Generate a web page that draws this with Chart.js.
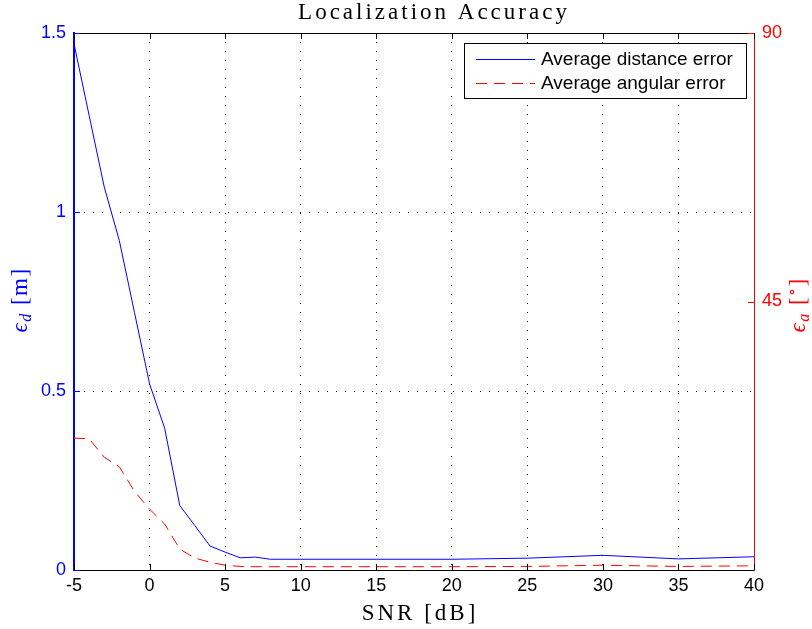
<!DOCTYPE html>
<html>
<head>
<meta charset="utf-8">
<script src="https://cdn.jsdelivr.net/npm/chart.js@4.4.1/dist/chart.umd.min.js"></script>
<style>
  html, body { margin: 0; padding: 0; background: #fff; }
  #wrap { width: 812px; height: 629px; position: relative; }
</style>
</head>
<body>
<div id="wrap"><canvas id="chart"></canvas></div>
<script>
// SNR points (dB) and the two error curves
const snrDb = [-5, -4, -3, -2, -1, 0, 1, 2, 3, 4, 5, 6, 7, 8, 10, 15, 20, 25, 30, 35, 40];
const avgDistanceError = [1.47, 1.27, 1.07, 0.92, 0.72, 0.52, 0.396, 0.18, 0.124, 0.067, 0.05, 0.034, 0.036, 0.03, 0.03, 0.03, 0.03, 0.033, 0.041, 0.031, 0.037]; // m
const avgAngularError = [22.1, 22.0, 18.9, 17.3, 13.2, 10.2, 7.7, 3.5, 2.0, 1.3, 0.8, 0.6, 0.55, 0.55, 0.55, 0.55, 0.55, 0.6, 0.8, 0.6, 0.7]; // degrees
const rightTickLabels = [45, 90];

const BLUE = "#0000ff";
const RED = "#ff0000";
const ANG_DASH = [11, 7];
const SERIF = '"Liberation Serif", "DejaVu Serif", serif';
const SANS = '"Liberation Sans", Arial, sans-serif';

// text made of several pieces (for the epsilon subscripts), optionally rotated
function drawParts(ctx, parts, x, y, rotate, spacing) {
  ctx.save();
  ctx.translate(x, y);
  if (rotate) ctx.rotate(rotate);
  ctx.letterSpacing = spacing + "px";
  ctx.textBaseline = "alphabetic";
  ctx.textAlign = "left";
  let total = 0;
  parts.forEach(p => { ctx.font = p.font; total += ctx.measureText(p.text).width; });
  let cx = -total / 2;
  parts.forEach(p => {
    ctx.font = p.font;
    ctx.fillStyle = p.color;
    ctx.fillText(p.text, cx, p.dy || 0);
    cx += ctx.measureText(p.text).width;
  });
  ctx.restore();
}

const decorations = {
  id: "decorations",
  afterDraw(chart) {
    const ctx = chart.ctx;
    const area = chart.chartArea;
    const xs = chart.scales.x, ys = chart.scales.y, ys2 = chart.scales.y2;

    // top box edge
    ctx.save();
    ctx.strokeStyle = "#000";
    ctx.lineWidth = 1;
    ctx.beginPath();
    ctx.moveTo(area.left, Math.round(area.top) + 0.5);
    ctx.lineTo(area.right, Math.round(area.top) + 0.5);
    ctx.stroke();

    // inward tick marks
    const tl = 6;
    xs.ticks.forEach(t => {
      const px = Math.round(xs.getPixelForValue(t.value)) + 0.5;
      ctx.beginPath();
      ctx.moveTo(px, area.bottom); ctx.lineTo(px, area.bottom - tl);
      ctx.moveTo(px, area.top); ctx.lineTo(px, area.top + tl);
      ctx.stroke();
    });
    ctx.strokeStyle = BLUE;
    ys.ticks.forEach(t => {
      const py = Math.round(ys.getPixelForValue(t.value)) + 0.5;
      ctx.beginPath();
      ctx.moveTo(area.left, py); ctx.lineTo(area.left + tl, py);
      ctx.stroke();
    });
    ctx.strokeStyle = RED;
    ys2.ticks.forEach(t => {
      const py = Math.round(ys2.getPixelForValue(t.value)) + 0.5;
      ctx.beginPath();
      ctx.moveTo(area.right, py); ctx.lineTo(area.right - tl, py);
      ctx.stroke();
    });
    ctx.restore();

    // titles
    const big = "23px " + SERIF;
    drawParts(ctx, [{ text: "Localization Accuracy", font: big, color: "#000" }], 434, 19, 0, 3);
    drawParts(ctx, [{ text: "SNR [dB]", font: big, color: "#000" }], 420, 620, 0, 3);
    drawParts(ctx, [
      { text: "\u03f5", font: "italic " + big, color: BLUE },
      { text: "d", font: "italic 16px " + SERIF, color: BLUE, dy: 4 },
      { text: " [m]", font: big, color: BLUE }
    ], 27, 300, -Math.PI / 2, 1.5);
    drawParts(ctx, [
      { text: "\u03f5", font: "italic " + big, color: RED },
      { text: "a", font: "italic 16px " + SERIF, color: RED, dy: 4 },
      { text: " [", font: big, color: RED },
      { text: "\u2218", font: "16px " + SERIF, color: RED, dy: -8 },
      { text: "]", font: big, color: RED }
    ], 805, 305, -Math.PI / 2, 1.5);

    // legend box
    const lx = 464.5, ly = 43.5, lw = 282, lh = 55;
    const legendColors = [BLUE, RED];
    const legendDash = [[], ANG_DASH];
    ctx.save();
    ctx.fillStyle = "#fff";
    ctx.fillRect(lx, ly, lw, lh);
    ctx.strokeStyle = "#000";
    ctx.lineWidth = 1;
    ctx.strokeRect(lx, ly, lw, lh);
    chart.data.datasets.forEach((ds, i) => {
      const yy = 59.5 + i * 24;
      ctx.strokeStyle = legendColors[i];
      ctx.lineWidth = 1;
      ctx.setLineDash(legendDash[i]);
      ctx.beginPath();
      ctx.moveTo(476, yy); ctx.lineTo(535, yy);
      ctx.stroke();
      ctx.setLineDash([]);
      ctx.fillStyle = "#000";
      ctx.font = "19px " + SANS;
      ctx.textBaseline = "middle";
      ctx.fillText(ds.label, 541, yy);
    });
    ctx.restore();
  }
};

new Chart(document.getElementById("chart"), {
  type: "line",
  data: {
    datasets: [
      {
        label: "Average distance error",
        data: snrDb.map((x, i) => ({ x: x, y: avgDistanceError[i] })),
        borderColor: BLUE,
        borderWidth: 1,
        pointRadius: 0,
        tension: 0,
        yAxisID: "y"
      },
      {
        label: "Average angular error",
        data: snrDb.map((x, i) => ({ x: x, y: avgAngularError[i] })),
        borderColor: RED,
        borderWidth: 1,
        borderDash: ANG_DASH,
        pointRadius: 0,
        tension: 0,
        yAxisID: "y2"
      }
    ]
  },
  options: {
    responsive: true,
    maintainAspectRatio: false,
    animation: false,
    layout: { padding: { top: 33, left: 0, right: 0, bottom: 0 } },
    plugins: {
      legend: { display: false },
      title: { display: false },
      tooltip: { enabled: false }
    },
    scales: {
      x: {
        type: "linear",
        min: -5,
        max: 40,
        afterFit: s => { s.height = 59; },
        ticks: { stepSize: 5, autoSkip: false, maxRotation: 0, padding: 5, color: "#000", font: { family: SANS, size: 18 } },
        grid: {
          drawTicks: false,
          lineWidth: 1,
          color: c => (c.tick && (c.tick.value === -5 || c.tick.value === 40)) ? "rgba(0,0,0,0)" : "#000"
        },
        border: { display: true, color: "#000", width: 1, dash: [1, 8] }
      },
      y: {
        position: "left",
        min: 0,
        max: 1.5,
        afterFit: s => { s.width = 74; },
        ticks: { stepSize: 0.5, padding: 8, color: BLUE, font: { family: SANS, size: 18 }, callback: v => String(v) },
        grid: {
          drawTicks: false,
          lineWidth: 1,
          color: c => {
            if (!c.tick) return "rgba(0,0,0,0)";
            if (c.tick.value === 1) return BLUE;
            if (c.tick.value === 0.5) return "#000";
            return "rgba(0,0,0,0)";
          }
        },
        border: { display: true, color: BLUE, width: 2, dash: [1, 8] }
      },
      y2: {
        position: "right",
        min: 0,
        max: 90,
        afterFit: s => { s.width = 58; },
        afterBuildTicks: s => { s.ticks = rightTickLabels.map(v => ({ value: v })); },
        ticks: { padding: 8, color: RED, font: { family: SANS, size: 18 } },
        grid: { display: false, drawTicks: false },
        border: { display: true, color: RED, width: 1 }
      }
    }
  },
  plugins: [decorations]
});
</script>
</body>
</html>
